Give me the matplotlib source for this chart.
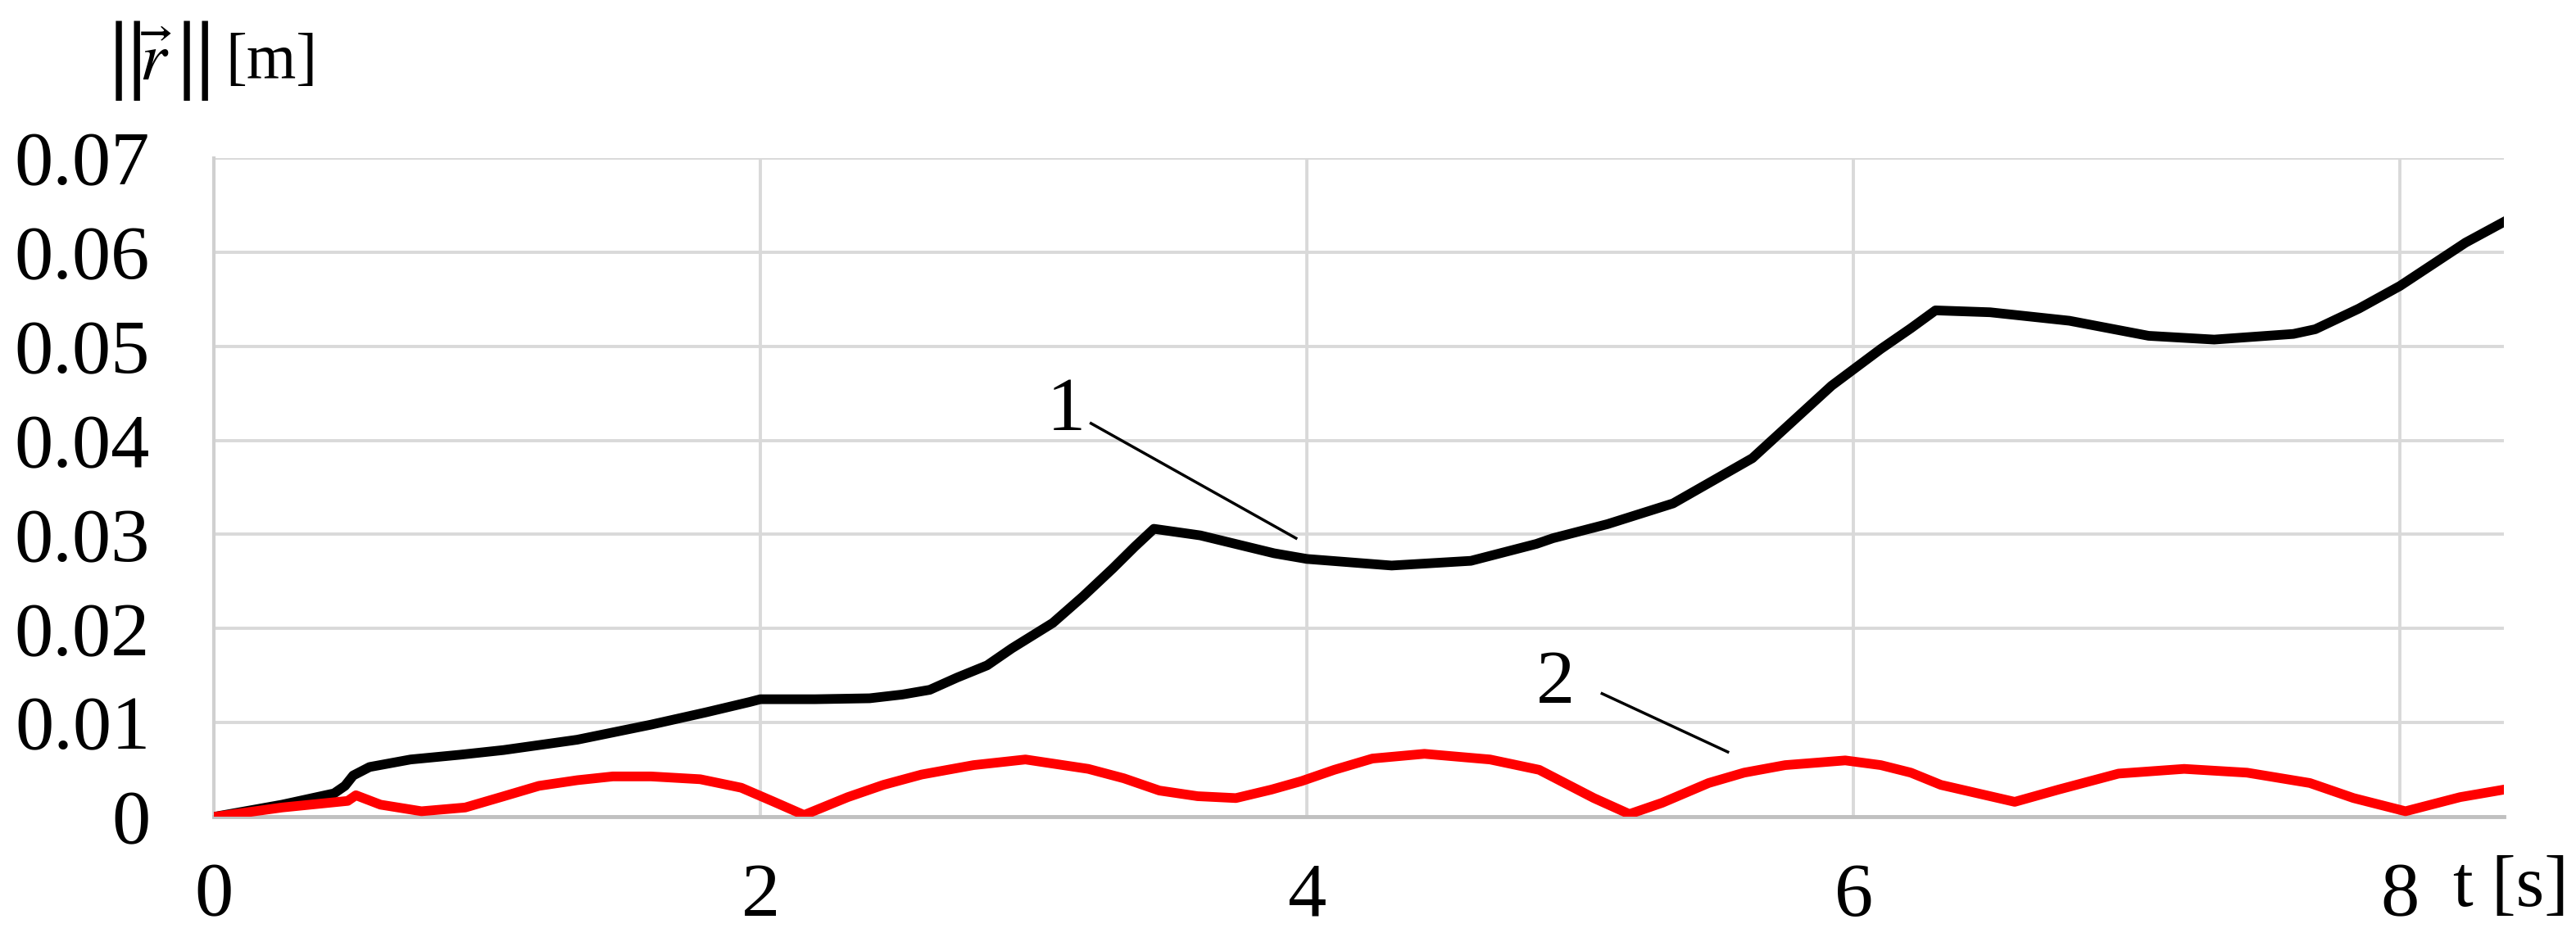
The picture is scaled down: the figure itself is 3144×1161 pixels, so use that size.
import numpy as np
import matplotlib.pyplot as plt

plt.rcParams['font.family'] = ['Liberation Serif', 'DejaVu Serif']
plt.rcParams['mathtext.fontset'] = 'stix'

# curve 1 (black)
t1 = [0.0, 0.25, 0.44, 0.48, 0.51, 0.57, 0.72, 0.9, 1.06, 1.33, 1.6, 1.8, 1.96, 2.0,
      2.2, 2.4, 2.52, 2.62, 2.72, 2.83, 2.92, 3.07, 3.18, 3.29, 3.37, 3.44, 3.61, 3.88,
      4.0, 4.31, 4.6, 4.84, 4.9, 5.1, 5.34, 5.63, 5.92, 6.1, 6.21, 6.3, 6.5, 6.79, 7.08,
      7.32, 7.61, 7.69, 7.85, 8.0, 8.24, 8.38]
r1 = [0.0, 0.0013, 0.0025, 0.0033, 0.0044, 0.0053, 0.0061, 0.0066, 0.0071, 0.0082,
      0.0098, 0.0111, 0.0122, 0.0125, 0.0125, 0.0126, 0.0130, 0.0135, 0.0148, 0.0161,
      0.0179, 0.0206, 0.0234, 0.0264, 0.0287, 0.0306, 0.0299, 0.0280, 0.0274, 0.0267,
      0.0272, 0.0290, 0.0296, 0.0311, 0.0333, 0.0381, 0.0458, 0.0497, 0.0519, 0.0538,
      0.0536, 0.0527, 0.0511, 0.0507, 0.0513, 0.0518, 0.0540, 0.0564, 0.0610, 0.0632]

# curve 2 (red)
t2 = [0.0, 0.25, 0.49, 0.52, 0.61, 0.76, 0.92, 1.05, 1.19, 1.33, 1.46, 1.6, 1.78, 1.93,
      2.05, 2.16, 2.32, 2.45, 2.59, 2.78, 2.97, 3.2, 3.33, 3.46, 3.6, 3.74, 3.87, 3.98,
      4.1, 4.24, 4.43, 4.67, 4.85, 4.95, 5.05, 5.18, 5.3, 5.47, 5.6, 5.75, 5.97, 6.1,
      6.21, 6.32, 6.44, 6.59, 6.75, 6.97, 7.21, 7.44, 7.67, 7.83, 8.02, 8.22, 8.38]
r2 = [0.0, 0.0010, 0.0017, 0.0023, 0.0013, 0.0006, 0.0010, 0.0021, 0.0033, 0.0039,
      0.0043, 0.0043, 0.0040, 0.0031, 0.0016, 0.0002, 0.0021, 0.0034, 0.0045, 0.0055,
      0.0061, 0.0051, 0.0041, 0.0028, 0.0022, 0.0020, 0.0029, 0.0038, 0.0050, 0.0062,
      0.0067, 0.0061, 0.0050, 0.0035, 0.0020, 0.0003, 0.0015, 0.0036, 0.0047, 0.0055,
      0.0060, 0.0055, 0.0047, 0.0034, 0.0026, 0.0016, 0.0029, 0.0046, 0.0051, 0.0047,
      0.0036, 0.0020, 0.0006, 0.0021, 0.0029]

xticks = [0, 2, 4, 6, 8]
yticks = [0, 0.01, 0.02, 0.03, 0.04, 0.05, 0.06, 0.07]
ytick_labels = ['0', '0.01', '0.02', '0.03', '0.04', '0.05', '0.06', '0.07']

fig = plt.figure(figsize=(31.44, 11.61), dpi=100)
ax = fig.add_axes([0.083, 0.141, 0.889, 0.693])

ax.plot(t1, r1, color='black', lw=8.5, solid_joinstyle='round', zorder=3)
ax.plot(t2, r2, color='#ff0000', lw=8.5, solid_joinstyle='round', zorder=3)

ax.set_xlim(0, 8.38)
ax.set_ylim(0, 0.07)
ax.set_xticks(xticks)
ax.set_xticklabels([str(v) for v in xticks])
ax.set_yticks(yticks)
ax.set_yticklabels(ytick_labels)
ax.tick_params(length=0, labelsize=68, colors='black')
ax.tick_params(axis='y', pad=56)
ax.tick_params(axis='x', pad=40)
ax.grid(True, color='#d9d9d9', lw=2.8)
ax.set_axisbelow(True)
for s in ['top', 'right']:
    ax.spines[s].set_visible(False)
ax.spines['left'].set_color('#d0d0d0')
ax.spines['left'].set_linewidth(3)
ax.spines['bottom'].set_color('#c0c0c0')
ax.spines['bottom'].set_linewidth(3.5)

# curve labels with leader lines
ax.text(3.12, 0.0411, '1', fontsize=68, ha='center', va='baseline')
ax.plot([3.21, 3.96], [0.0418, 0.0296], color='black', lw=2.5)
ax.text(4.91, 0.0121, '2', fontsize=68, ha='center', va='baseline')
ax.plot([5.08, 5.54], [0.0131, 0.0069], color='black', lw=2.5)

# axis titles: tall norm bars around the vector r
fig.text(0.040, 0.936, r'$\Vert$', fontsize=80, ha='left', va='center')
fig.text(0.054, 0.933, r'$\vec{r}$', fontsize=60, ha='left', va='center')
fig.text(0.0665, 0.936, r'$\Vert$', fontsize=80, ha='left', va='center')
fig.text(0.0875, 0.934, '[m]', fontsize=56, ha='left', va='center')
fig.text(0.997, 0.066, 't [s]', fontsize=64, ha='right', va='center')

fig.savefig('out.png', dpi=100)
